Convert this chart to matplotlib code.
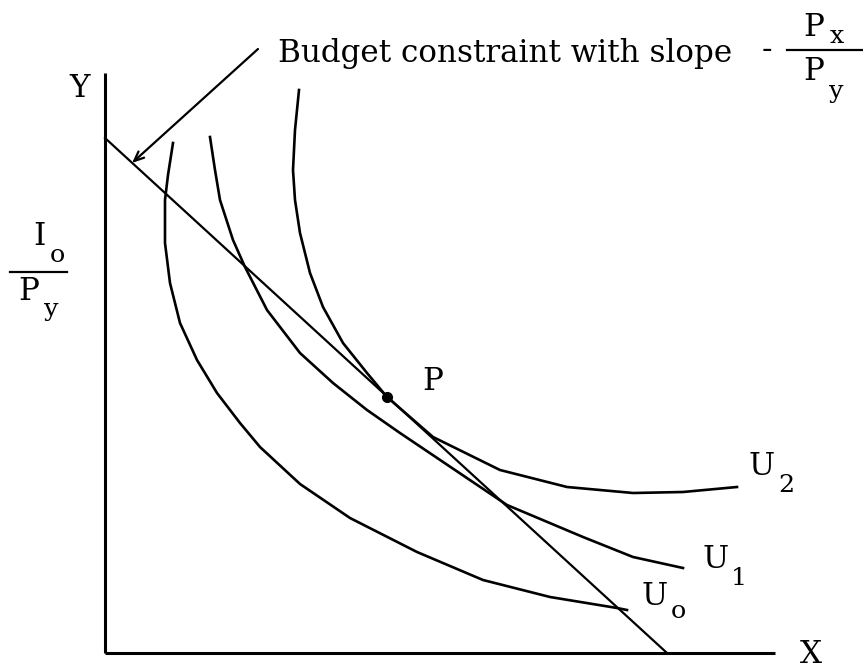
import matplotlib
matplotlib.use("Agg")
import matplotlib.pyplot as plt

# budget line intercepts (I0/Py on the Y axis, I0/Px on the X axis)
budget_x = [0, 56.2]
budget_y = [51.5, 0]

# indifference curves
u0_x = [6.8, 6.3, 6.0, 6.0, 6.5, 7.5, 9.2, 11.2, 13.5, 15.5, 19.5, 24.5, 31.2, 37.8, 44.5, 51.2, 52.2]
u0_y = [51.0, 47.8, 45.3, 41.0, 37.0, 33.0, 29.3, 26.0, 23.0, 20.6, 16.9, 13.5, 10.1, 7.3, 5.6, 4.5, 4.3]

u1_x = [10.5, 11.0, 11.5, 12.8, 14.0, 16.2, 19.5, 22.8, 26.2, 29.5, 40.2, 47.8, 52.8, 57.8]
u1_y = [51.6, 48.3, 45.3, 41.3, 38.6, 34.3, 30.0, 27.0, 24.3, 22.0, 14.8, 11.6, 9.6, 8.5]

u2_x = [19.4, 19.0, 18.8, 19.0, 19.5, 20.5, 21.8, 23.8, 26.2, 28.2, 32.8, 39.5, 46.2, 52.8, 57.8, 63.2]
u2_y = [56.3, 52.3, 48.3, 45.3, 42.0, 38.0, 34.6, 31.0, 28.0, 25.6, 21.6, 18.3, 16.6, 16.0, 16.1, 16.6]

# tangency point P
p_x, p_y = 28.2, 25.6

fig = plt.figure(figsize=(8.63, 6.70), dpi=100)
ax = fig.add_axes([0, 0, 1, 1])
ax.set_xlim(-10.5, 75.8)
ax.set_ylim(-1.7, 65.3)
ax.axis("off")

# size the typewriter-like text so the caption spans the same width as in the scan
caption = "Budget constraint with slope"
t = ax.text(17.3, 59.1, caption, family="DejaVu Serif", fontsize=18,
            ha="left", va="baseline")
fig.canvas.draw()
w = t.get_window_extent(fig.canvas.get_renderer()).width
fs = 18 * 455.0 / w
t.set_fontsize(fs)

fnt = dict(family="DejaVu Serif", fontsize=fs, color="black", va="baseline", ha="center")
sub = dict(fnt, fontsize=fs * 0.82)

# axes
ax.plot([0, 0], [0, 58.0], color="black", lw=2.2, solid_capstyle="butt")
ax.plot([0, 67.0], [0, 0], color="black", lw=2.2, solid_capstyle="butt")

# budget line and curves
ax.plot(budget_x, budget_y, color="black", lw=1.6)
for xs, ys in [(u0_x, u0_y), (u1_x, u1_y), (u2_x, u2_y)]:
    ax.plot(xs, ys, color="black", lw=1.9, solid_joinstyle="round")
ax.plot(p_x, p_y, "o", color="black", ms=7)

# axis labels
ax.text(-2.5, 55.6, "Y", **fnt)
ax.text(70.6, -1.0, "X", **fnt)
ax.text(-6.6, 40.8, "I", **fnt)
ax.text(-4.8, 39.1, "o", **sub)
ax.plot([-9.5, -3.8], [38.1, 38.1], color="black", lw=1.6)
ax.text(-7.6, 35.3, "P", **fnt)
ax.text(-5.4, 33.7, "y", **sub)

# curve labels
ax.text(32.8, 26.3, "P", **fnt)
ax.text(65.7, 17.8, "U", **fnt)
ax.text(68.1, 16.1, "2", **sub)
ax.text(61.1, 8.5, "U", **fnt)
ax.text(63.4, 6.8, "1", **sub)
ax.text(55.0, 4.8, "U", **fnt)
ax.text(57.3, 3.5, "o", **sub)

# slope fraction and arrow
ax.text(66.2, 59.5, "-", **fnt)
ax.plot([68.2, 75.7], [60.3, 60.3], color="black", lw=1.6)
ax.text(70.9, 61.7, "P", **fnt)
ax.text(73.2, 61.0, "x", **sub)
ax.text(70.9, 57.3, "P", **fnt)
ax.text(73.1, 55.5, "y", **sub)
ax.annotate("", xy=(2.7, 49.0), xytext=(15.3, 60.4),
            arrowprops=dict(arrowstyle="->,head_length=0.7,head_width=0.3",
                            color="black", lw=1.6, shrinkA=0, shrinkB=0))

fig.savefig("out.png", dpi=100, facecolor="white")
